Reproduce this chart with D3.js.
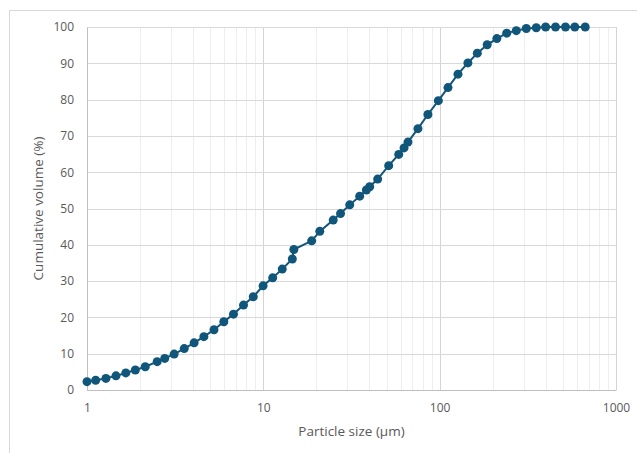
<!DOCTYPE html>
<html lang="en">
<head>
<meta charset="UTF-8">
<title>Cumulative particle size distribution</title>
<style>
  body { margin: 0; background: #fff; overflow: hidden; }
  svg { display: block; }
  text { font-family: "Open Sans", "Noto Sans", sans-serif; fill: #595959; }
</style>
</head>
<body>
<svg id="chart" width="637" height="453"></svg>
<script src="https://d3js.org/d3.v7.min.js"></script>
<script>
  // particle size (µm) and cumulative volume (%)
  const sizes = [1.00, 1.12, 1.28, 1.46, 1.66, 1.88, 2.14, 2.50, 2.76, 3.12,
                 3.56, 4.05, 4.60, 5.25, 5.97, 6.77, 7.72, 8.77, 9.97, 11.3,
                 12.8, 14.6, 14.9, 18.8, 20.9, 24.9, 27.4, 30.9, 35.2, 38.4,
                 40.1, 44.5, 51.4, 58.6, 62.8, 66.1, 75.3, 85.8, 98.3, 111.5,
                 127, 144.6, 163.5, 186, 211, 240, 272, 310, 353, 399,
                 454, 517, 584, 669];
  const cumVolume = [2.3, 2.7, 3.2, 3.9, 4.7, 5.5, 6.4, 7.8, 8.7, 9.9,
                     11.4, 13.0, 14.7, 16.6, 18.8, 20.9, 23.4, 25.7, 28.7, 30.9,
                     33.3, 36.1, 38.7, 41.1, 43.7, 46.8, 48.6, 51.0, 53.4, 55.1,
                     56.0, 58.1, 61.8, 64.9, 66.7, 68.3, 72.0, 75.9, 79.7, 83.3,
                     87.0, 90.1, 92.8, 95.1, 96.8, 98.3, 99.0, 99.6, 99.8, 100,
                     100, 100, 100, 100];
  const xTicks = [1, 10, 100, 1000];
  const yTicks = [0, 10, 20, 30, 40, 50, 60, 70, 80, 90, 100];

  const points = sizes.map((s, i) => ({ x: s, y: cumVolume[i] }));

  const svg = d3.select("#chart");
  const margin = { left: 87, top: 27, right: 21, bottom: 63 };
  const width = 637 - margin.left - margin.right;
  const height = 453 - margin.top - margin.bottom;
  const color = "#10567a";

  // outer chart frame (cropped at right and bottom)
  svg.append("rect")
    .attr("x", 9.5).attr("y", 10.5)
    .attr("width", 700).attr("height", 500)
    .attr("fill", "none")
    .attr("stroke", "#d9d9d9");

  const x = d3.scaleLog().domain([1, 1000]).range([0, width]);
  const y = d3.scaleLinear().domain([0, 100]).range([height, 0]);

  const g = svg.append("g").attr("transform", `translate(${margin.left},${margin.top})`);

  // minor vertical gridlines
  const minor = [];
  for (let d = 1; d < 1000; d *= 10) {
    for (let m = 2; m <= 9; m++) minor.push(d * m);
  }
  g.selectAll(".minor")
    .data(minor)
    .enter()
    .append("line")
    .attr("class", "minor")
    .attr("x1", d => Math.round(x(d)) + 0.5)
    .attr("x2", d => Math.round(x(d)) + 0.5)
    .attr("y1", 0)
    .attr("y2", height)
    .attr("stroke", "#eeeeee");

  // major vertical gridlines
  g.selectAll(".major")
    .data(xTicks)
    .enter()
    .append("line")
    .attr("class", "major")
    .attr("x1", d => Math.round(x(d)) + 0.5)
    .attr("x2", d => Math.round(x(d)) + 0.5)
    .attr("y1", 0)
    .attr("y2", height)
    .attr("stroke", "#d4d4d4");

  // horizontal gridlines
  g.selectAll(".hgrid")
    .data(yTicks)
    .enter()
    .append("line")
    .attr("class", "hgrid")
    .attr("x1", 0)
    .attr("x2", width)
    .attr("y1", d => Math.round(y(d)) + 0.5)
    .attr("y2", d => Math.round(y(d)) + 0.5)
    .attr("stroke", "#d9d9d9");

  // axes
  const xAxis = g.append("g")
    .attr("transform", `translate(0,${height})`)
    .call(d3.axisBottom(x).tickValues(xTicks).tickFormat(d3.format("d")).tickSize(0).tickPadding(13));
  const yAxis = g.append("g")
    .call(d3.axisLeft(y).tickValues(yTicks).tickSize(0).tickPadding(13));
  [xAxis, yAxis].forEach(a => {
    a.select(".domain").attr("stroke", "#bfbfbf");
    a.selectAll("text").attr("font-size", "12px").attr("fill", "#595959")
      .style("font-family", '"Open Sans", "Noto Sans", sans-serif');
  });

  // series line and markers
  const line = d3.line().x(d => x(d.x)).y(d => y(d.y));
  g.append("path")
    .datum(points)
    .attr("d", line)
    .attr("fill", "none")
    .attr("stroke", color)
    .attr("stroke-width", 2);

  g.selectAll(".dot")
    .data(points)
    .enter()
    .append("circle")
    .attr("class", "dot")
    .attr("cx", d => x(d.x))
    .attr("cy", d => y(d.y))
    .attr("r", 4.5)
    .attr("fill", color);

  // axis titles
  svg.append("text")
    .attr("x", margin.left + width / 2)
    .attr("y", 436)
    .attr("text-anchor", "middle")
    .attr("font-size", "13.5px")
    .text("Particle size (µm)");

  svg.append("text")
    .attr("transform", `translate(43,${margin.top + height / 2}) rotate(-90)`)
    .attr("text-anchor", "middle")
    .attr("font-size", "13.5px")
    .text("Cumulative volume (%)");
</script>
</body>
</html>
